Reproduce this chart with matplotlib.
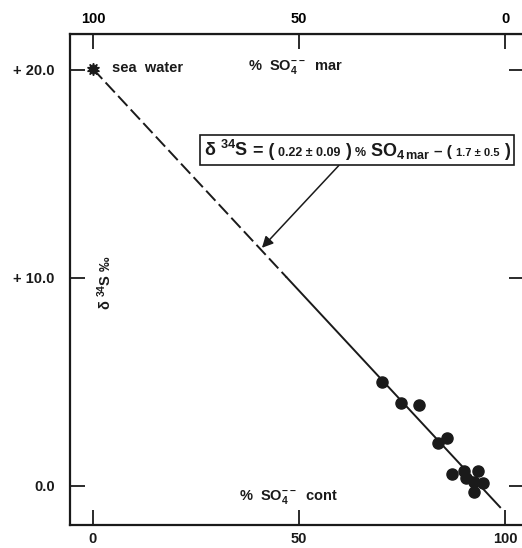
import matplotlib
matplotlib.use("Agg")
import matplotlib.pyplot as plt
from matplotlib.offsetbox import TextArea, HPacker, AnnotationBbox

plt.rcParams['font.family'] = ['Liberation Sans', 'DejaVu Sans']
plt.rcParams['mathtext.fontset'] = 'custom'
plt.rcParams['mathtext.rm'] = 'Liberation Sans:bold'
plt.rcParams['mathtext.it'] = 'Liberation Sans:bold'
plt.rcParams['mathtext.bf'] = 'Liberation Sans:bold'

# ---- data ----
cont_pct = [70.2, 74.8, 79.1, 83.7, 85.8, 87.1, 90.0, 90.5, 93.4, 92.5, 94.7, 92.5]
d34s = [4.99, 4.0, 3.9, 2.08, 2.32, 0.58, 0.74, 0.37, 0.72, 0.21, 0.16, -0.30]
seawater_x = [0.0]
seawater_y = [20.05]
dash_x = [0.0, 47.0]
dash_y = [20.05, 10.03]
solid_x = [47.0, 98.8]
solid_y = [10.03, -1.02]
xticks_bottom = [0, 50, 100]
yticks = [0, 10, 20]
ytick_labels = ["0.0", "+ 10.0", "+ 20.0"]
# equation pieces (text, fontsize)
eq_parts = [(r"$\delta$ $^{34}$S", 13), ("= (", 13), ("0.22 ± 0.09", 9), (")", 13),
            ("%", 9), (r"SO$_{4\,\mathrm{mar}}$", 13), ("– (", 11), ("1.7 ± 0.5", 8),
            (")", 13)]

W, H = 522, 548
fig = plt.figure(figsize=(W / 100, H / 100), dpi=100)
ax = fig.add_axes([70 / W, 23 / H, (524 - 70) / W, (525 - 34) / H])
ax.set_xlim(-5.58, 104.6)
ax.set_ylim(-1.875, 21.73)

ink = '#1a1a1a'
ax.plot(dash_x, dash_y, color=ink, lw=1.4, dashes=(7, 2.5))
ax.plot(solid_x, solid_y, color=ink, lw=1.4)
ax.plot(cont_pct, d34s, 'o', color=ink, ms=8, mec=ink)
ax.plot(seawater_x, seawater_y, marker=(10, 1, 0), color=ink, ms=9, ls='none')

for s in ax.spines.values():
    s.set_linewidth(1.6)
    s.set_color(ink)

ax.set_xticks(xticks_bottom)
ax.set_xticklabels([str(v) for v in xticks_bottom])
ax.set_yticks(yticks)
ax.set_yticklabels(ytick_labels)
ax.tick_params(axis='both', direction='in', length=11, width=1.3, color=ink,
               labelsize=10.5, labelcolor=ink)
ax.tick_params(axis='x', pad=5)
ax.tick_params(axis='y', pad=11, right=True)
for lab in ax.get_xticklabels() + ax.get_yticklabels():
    lab.set_fontweight('bold')

top = ax.secondary_xaxis('top', functions=(lambda x: 100 - x, lambda x: 100 - x))
top.set_xticks([100, 50, 0])
top.set_xticklabels(['100', '50', '0'])
top.tick_params(direction='in', length=11, width=1.3, color=ink, labelsize=10.5, pad=6)
for lab in top.get_xticklabels():
    lab.set_fontweight('bold')

ax.text(4.6, 20.1, "sea  water", fontsize=10.5, fontweight='bold', color=ink,
        va='center', ha='left')
ax.text(37.5, 20.15, r"%  SO$_4^{--}$  mar", fontsize=10.5, fontweight='bold', color=ink,
        va='center', ha='left')
ax.text(35.5, -0.55, r"%  SO$_4^{--}$  cont", fontsize=10.5, fontweight='bold', color=ink,
        va='center', ha='left')
ax.text(2.8, 9.8, r"$\delta$ $^{34}$S ‰", fontsize=10.5, fontweight='bold', color=ink,
        rotation=90, va='center', ha='center')

children = [TextArea(t, textprops=dict(fontsize=fs, fontweight='bold', color=ink))
            for t, fs in eq_parts]
pack = HPacker(children=children, align='baseline', pad=0, sep=3)
ab = AnnotationBbox(pack, xy=(41.0, 11.45), xybox=(64.1, 16.15),
                    xycoords='data', boxcoords='data', box_alignment=(0.5, 0.5),
                    pad=0.35,
                    bboxprops=dict(boxstyle='square', fc='white', ec=ink, lw=1.2),
                    arrowprops=dict(arrowstyle='-|>', color=ink, lw=1.1,
                                    mutation_scale=12, relpos=(0.455, 0.0),
                                    shrinkA=0, shrinkB=0))
ax.add_artist(ab)

fig.savefig('out.png', dpi=100)
